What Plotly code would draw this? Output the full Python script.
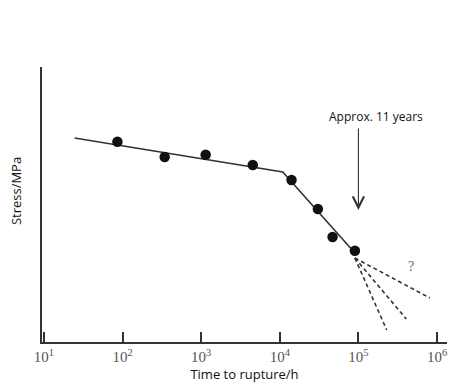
import plotly.graph_objects as go

# Data (time to rupture in hours, stress in arbitrary units - no y ticks shown)
test_time_h = [86, 343, 1140, 4530, 14100, 30500, 46900, 90200]
test_stress = [200.3, 185, 187.3, 177, 162, 133, 105, 91.3]

fit_time_h = [24.5, 10900, 90200]
fit_stress = [204, 170, 89]

extrap_start = (90200, 84)
extrap_time_h = [813000, 407000, 229000]
extrap_stress = [44, 23, 12]

x_tickvals = [10, 100, 1000, 10000, 100000, 1000000]
x_ticktext = ["10<sup>1</sup>", "10<sup>2</sup>", "10<sup>3</sup>",
              "10<sup>4</sup>", "10<sup>5</sup>", "10<sup>6</sup>"]

fig = go.Figure()

# extrapolation dashed lines
for t, s in zip(extrap_time_h, extrap_stress):
    fig.add_trace(go.Scatter(
        x=[extrap_start[0], t], y=[extrap_start[1], s], mode="lines",
        line=dict(color="#333333", width=1.6, dash="4px,3px"),
        showlegend=False, hoverinfo="skip"))

# fitted line
fig.add_trace(go.Scatter(
    x=fit_time_h, y=fit_stress, mode="lines",
    line=dict(color="#333333", width=1.6), showlegend=False))

# test points
fig.add_trace(go.Scatter(
    x=test_time_h, y=test_stress, mode="markers",
    marker=dict(color="#111111", size=10.5), showlegend=False))

fig.update_layout(
    width=449, height=385,
    margin=dict(l=42, r=2, t=67, b=43, autoexpand=False),
    paper_bgcolor="white", plot_bgcolor="white",
    xaxis=dict(
        type="log", range=[0.975, 6.127], automargin=False,
        tickvals=x_tickvals, ticktext=x_ticktext,
        ticklabeloverflow="allow",
        ticks="inside", ticklen=10, tickwidth=2, tickcolor="#333333",
        showline=True, linecolor="#333333", linewidth=2,
        showgrid=False, zeroline=False,
        tickfont=dict(family="Liberation Serif", size=15, color="#555555"),
        title=dict(text="Time to rupture/h", standoff=0,
                   font=dict(family="Open Sans", size=13, color="#111111")),
    ),
    yaxis=dict(
        range=[0, 275], showticklabels=False, ticks="", automargin=False,
        showline=True, linecolor="#333333", linewidth=2,
        showgrid=False, zeroline=False,
    ),
    annotations=[
        dict(x=5, y=132, xref="x", yref="y", ax=0, ay=-83,
             showarrow=True, arrowhead=5, arrowsize=2.0, arrowwidth=1.1,
             arrowcolor="#333333", text=""),
        dict(x=5.22, y=226, xref="x", yref="y", text="Approx. 11 years",
             showarrow=False,
             font=dict(family="Open Sans", size=12, color="#111111")),
        dict(x=5.675, y=76, xref="x", yref="y", text="?", showarrow=False,
             font=dict(family="Liberation Serif", size=14, color="#666666")),
        dict(x=-0.064, y=0.549, xref="paper", yref="paper", xanchor="center",
             yanchor="middle", text="Stress/MPa", textangle=-90,
             showarrow=False,
             font=dict(family="Open Sans", size=13, color="#111111")),
    ],
)

fig.write_html(
    "out.html",
    config={"displayModeBar": False},
    post_script="document.body.style.margin='0';document.body.style.overflow='hidden';",
)
